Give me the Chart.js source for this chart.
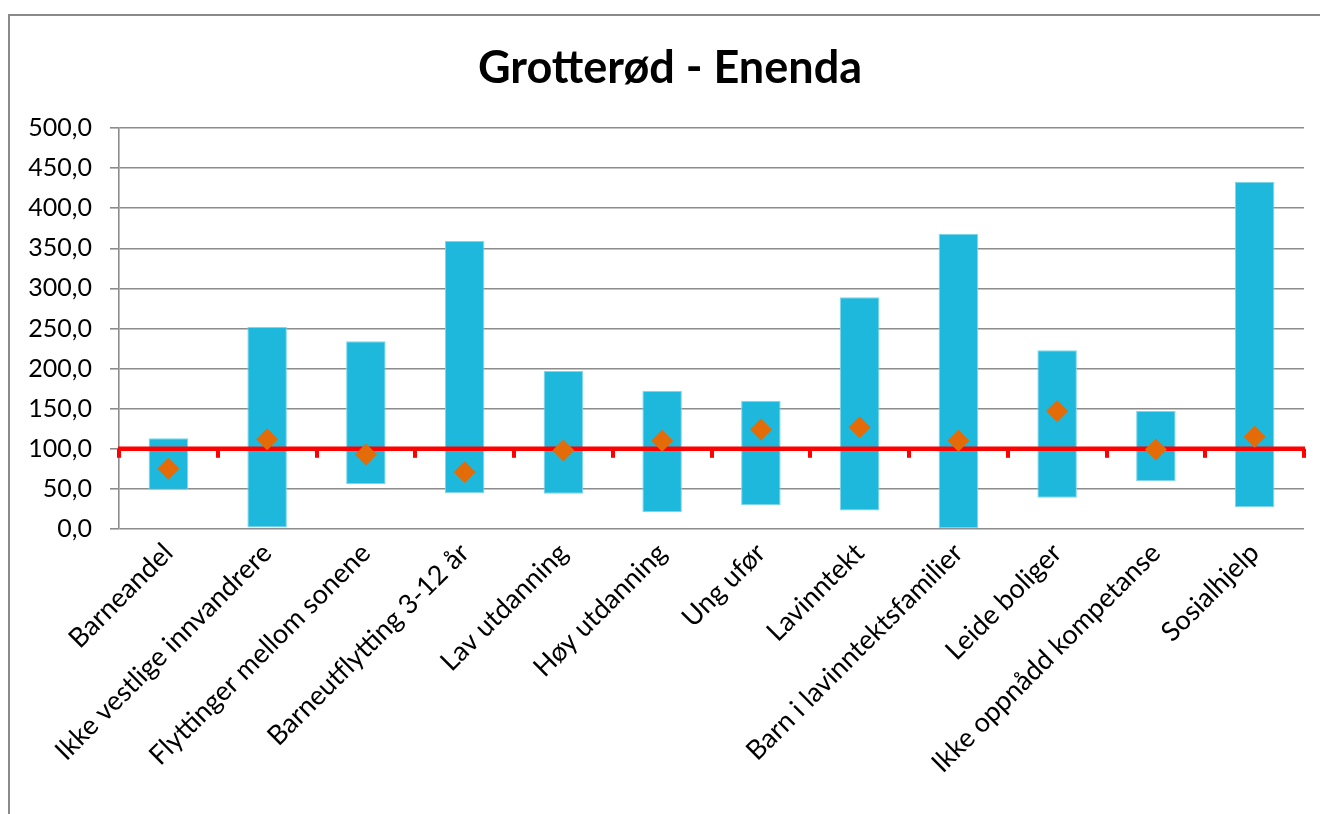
<!DOCTYPE html>
<html>
<head>
<meta charset="utf-8">
<script src="https://cdn.jsdelivr.net/npm/chart.js@4"></script>
<style>
  html, body { margin: 0; padding: 0; background: #fff; }
  #wrap { position: relative; width: 1320px; height: 814px; overflow: hidden; }
  #frame { position: absolute; left: 8px; top: 14px; width: 1330px; height: 820px; border: 2px solid #8a8a8a; box-sizing: border-box; }
  #title { position: absolute; left: 20px; width: 1300px; top: 39px; height: 54px; line-height: 54px; text-align: center;
           font-family: Lato, "Open Sans", "DejaVu Sans", sans-serif; font-weight: bold; font-size: 45px; color: #000; }
  canvas { position: absolute; left: 0; top: 0; }
</style>
</head>
<body>
<div id="wrap">
  <div id="frame"></div>
  <canvas id="chart" width="1320" height="814"></canvas>
  <div id="title"></div>
</div>
<script>
const chartTitle = 'Grotterød - Enenda';
const categories = [
  'Barneandel',
  'Ikke vestlige innvandrere',
  'Flyttinger mellom sonene',
  'Barneutflytting 3-12 år',
  'Lav utdanning',
  'Høy utdanning',
  'Ung ufør',
  'Lavinntekt',
  'Barn i lavinntektsfamilier',
  'Leide boliger',
  'Ikke oppnådd kompetanse',
  'Sosialhjelp'
];
// Lowest and highest value across zones for each indicator
const rangeLow  = [49, 2, 56, 45, 44, 21, 30, 23, 0, 39, 60, 27];
const rangeHigh = [113, 252, 234, 359, 197, 172, 160, 289, 368, 223, 147, 433];
// Value for this zone
const zoneValues = [75, 112, 93, 71, 98, 110, 124, 127, 110, 147, 99, 115];
// Reference level (municipality average = 100)
const referenceLevel = 100;
const yTicks = [0, 50, 100, 150, 200, 250, 300, 350, 400, 450, 500];

const FONT = 'Lato, "Open Sans", "DejaVu Sans", sans-serif';

document.getElementById('title').textContent = chartTitle;

// Red reference line with small tick marks at each category boundary,
// drawn after the range bars but before the zone markers.
const referenceLinePlugin = {
  id: 'referenceLine',
  afterDatasetDraw(chart, args) {
    if (args.index !== 0) return;
    const { ctx, chartArea, scales } = chart;
    const y = scales.y.getPixelForValue(referenceLevel);
    const xs = scales.x;
    const n = categories.length;
    const bounds = [chartArea.left];
    for (let i = 1; i < n; i++) {
      bounds.push((xs.getPixelForValue(i - 1) + xs.getPixelForValue(i)) / 2);
    }
    bounds.push(chartArea.right);
    ctx.save();
    ctx.fillStyle = '#ff0000';
    bounds.forEach(bx => ctx.fillRect(Math.round(bx) - 2, y, 4, 9));
    ctx.strokeStyle = '#ff0000';
    ctx.lineWidth = 4.5;
    ctx.beginPath();
    ctx.moveTo(chartArea.left - 1, y);
    ctx.lineTo(chartArea.right + 1, y);
    ctx.stroke();
    ctx.restore();
  }
};

new Chart(document.getElementById('chart'), {
  data: {
    labels: categories,
    datasets: [
      {
        type: 'bar',
        label: 'Spenn',
        data: rangeLow.map((lo, i) => [lo, rangeHigh[i]]),
        backgroundColor: '#1eb8dc',
        borderColor: '#7fd6ec',
        borderWidth: 1,
        borderSkipped: false,
        barPercentage: 0.4,
        categoryPercentage: 1.0,
        order: 2
      },
      {
        type: 'line',
        label: 'Sone',
        data: zoneValues,
        showLine: false,
        pointStyle: 'rectRot',
        pointRadius: 11,
        pointHoverRadius: 11,
        pointBackgroundColor: '#e36c09',
        pointBorderColor: '#e36c09',
        pointBorderWidth: 0,
        order: 1
      }
    ]
  },
  options: {
    responsive: false,
    animation: false,
    events: [],
    layout: { padding: { left: 0, right: 16, top: 128, bottom: 0 } },
    plugins: {
      legend: { display: false },
      tooltip: { enabled: false },
      title: { display: false }
    },
    scales: {
      x: {
        offset: true,
        grid: { display: false, drawTicks: false },
        border: { display: false },
        ticks: {
          color: '#000',
          font: { family: FONT, size: 27 },
          minRotation: 45,
          maxRotation: 45,
          autoSkip: false,
          padding: 8
        },
        afterFit(scale) { scale.height = 285; }
      },
      y: {
        min: 0,
        max: 500,
        afterBuildTicks(scale) { scale.ticks = yTicks.map(v => ({ value: v })); },
        grid: { color: '#8c8c8c', lineWidth: 1.6, tickLength: 9, drawTicks: true },
        border: { display: true, color: '#8c8c8c', width: 1.6 },
        ticks: {
          color: '#000',
          font: { family: FONT, size: 25 },
          padding: 18,
          callback: v => v.toFixed(1).replace('.', ',')
        },
        afterFit(scale) { scale.width = 119; }
      }
    }
  },
  plugins: [referenceLinePlugin]
});
</script>
</body>
</html>
